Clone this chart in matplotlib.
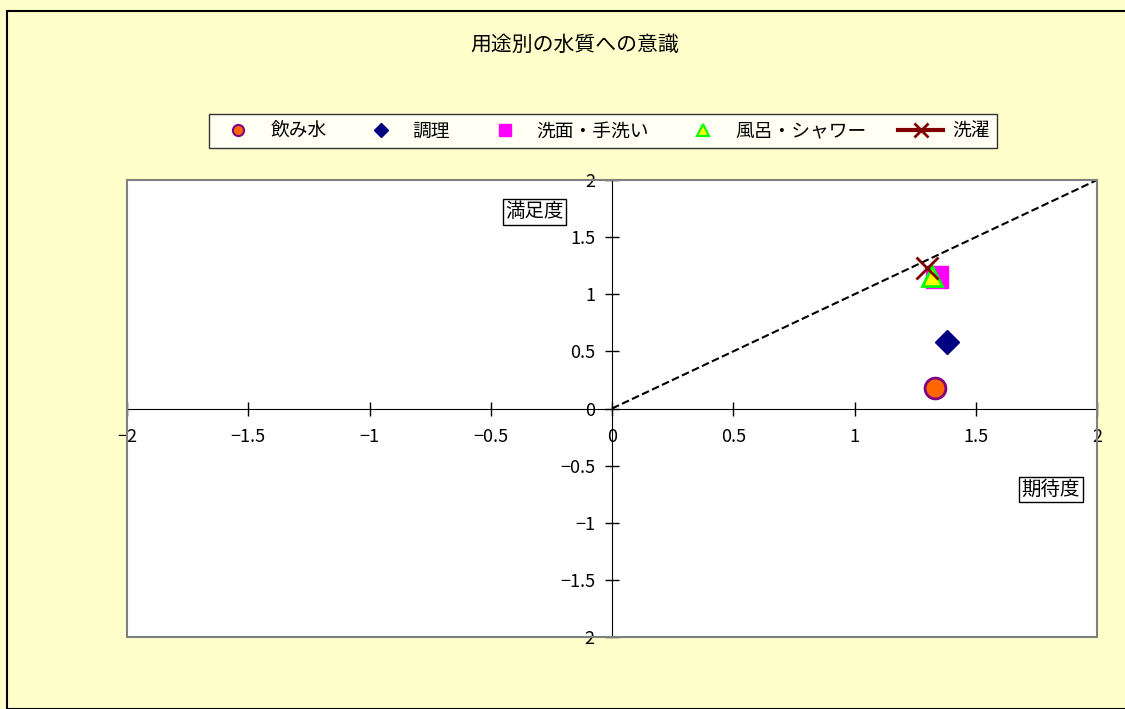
import matplotlib.pyplot as plt
from matplotlib.lines import Line2D
from matplotlib.patches import Rectangle

plt.rcParams['font.family'] = ['Noto Sans CJK JP', 'DejaVu Sans']

# data: expectation (x) vs satisfaction (y)
series = ['飲み水', '調理', '洗面・手洗い', '風呂・シャワー', '洗濯']
expect = [1.33, 1.38, 1.34, 1.32, 1.30]
satisfy = [0.18, 0.58, 1.15, 1.16, 1.23]
ref_x = [0, 2]
ref_y = [0, 2]
ticks = [-2, -1.5, -1, -0.5, 0, 0.5, 1, 1.5, 2]
tick_labels = ['−2', '−1.5', '−1', '−0.5', '0', '0.5', '1', '1.5', '2']

styles = [
    dict(marker='o', color='none', mfc='#FF6600', mec='#800080', ms=15, mew=2),
    dict(marker='D', color='none', mfc='#000080', mec='#000080', ms=12, mew=1),
    dict(marker='s', color='none', mfc='#FF00FF', mec='#FF00FF', ms=16, mew=1),
    dict(marker='^', color='none', mfc='#FFFF00', mec='#00FF00', ms=14, mew=2),
    dict(marker='x', color='#800000', mfc='#800000', mec='#800000', ms=16, mew=2, lw=3),
]
leg_ms = [8, 7, 9, 8, 10]

fig = plt.figure(figsize=(11.25, 7.09), dpi=100)
fig.patch.set_facecolor('#FFFFCC')
fig.patches.append(Rectangle((7 / 1125, 0), 1.2, 1 - 11 / 709, transform=fig.transFigure,
                             fill=False, edgecolor='black', lw=1.5))

ax = fig.add_axes([127 / 1125, 1 - 637 / 709, 970 / 1125, 457 / 709])
ax.set_facecolor('white')
ax.set_xlim(-2, 2)
ax.set_ylim(-2, 2)

ax.plot(ref_x, ref_y, ls='--', color='black', lw=1.5, zorder=2)
for i in range(len(series)):
    st = dict(styles[i])
    st['ls'] = 'none'
    ax.plot([expect[i]], [satisfy[i]], zorder=3 + (i if i != 2 else -1), **st)

for s in ['top', 'right']:
    ax.spines[s].set_visible(False)
ax.spines['left'].set_position('zero')
ax.spines['bottom'].set_position('zero')
ax.add_patch(Rectangle((0, 0), 1, 1, transform=ax.transAxes, fill=False,
                       edgecolor='#808080', lw=1.5, zorder=5, clip_on=False))

ax.set_xticks(ticks)
ax.set_yticks(ticks)
ax.set_xticklabels(tick_labels)
ax.set_yticklabels(tick_labels)
ax.tick_params(direction='inout', length=10, width=1, labelsize=13, pad=7)
ax.tick_params(axis='x', pad=9)

ax.text(-0.32, 1.72, '満足度', fontsize=14, ha='center', va='center',
        bbox=dict(boxstyle='square,pad=0.12', fc='white', ec='black', lw=1))
ax.text(1.81, -0.71, '期待度', fontsize=14, ha='center', va='center',
        bbox=dict(boxstyle='square,pad=0.12', fc='white', ec='black', lw=1))

fig.text(575 / 1125, 1 - 45 / 709, '用途別の水質への意識', fontsize=15, ha='center', va='center')

handles = []
for i in range(len(series)):
    st = dict(styles[i])
    st['ms'] = leg_ms[i]
    if i != 4:
        st['ls'] = 'none'
        st['mew'] = 1.5 if st['mew'] > 1 else 1
    handles.append(Line2D([], [], **st))
leg = fig.legend(handles, series, loc='center', bbox_to_anchor=(603 / 1125, 1 - 131 / 709),
                 ncol=5, fontsize=13.5, frameon=True, fancybox=False, edgecolor='black',
                 handlelength=2.4, columnspacing=1.7, handletextpad=0.5, borderpad=0.35,
                 borderaxespad=0)
leg.get_frame().set_linewidth(1)

fig.savefig('out.png', dpi=100, facecolor=fig.get_facecolor())
